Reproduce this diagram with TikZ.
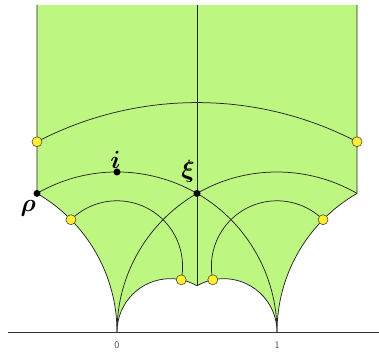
\documentclass[tikz,border=0pt]{standalone}
\usepackage{amsmath}
\usepackage{bm}
\definecolor{domgreen}{RGB}{190,246,130}
\definecolor{ydot}{RGB}{255,238,50}
\tikzset{
  edge/.style={draw=black!85,line width=0.75pt},
  ypt/.style={fill=ydot,draw=black!60!olive,line width=0.6pt},
  lab/.style={font=\fontsize{23}{23}\selectfont},
  axlab/.style={font=\sffamily\fontsize{10}{10}\selectfont,text=black!70}
}
\begin{document}
\begin{tikzpicture}[x=160pt,y=160pt]
\useasboundingbox (-0.73125,-0.125) rectangle (1.6375,2.075);
\def\rt{0.8660254}
\def\top{2.044}
\def\hr{0.41}
\coordinate (rho) at (-0.5,\rt);
\coordinate (ii) at (0,1);
\coordinate (xi) at (0.5,\rt);
\coordinate (o) at (0,0);
\coordinate (one) at (1,0);
\coordinate (dip) at (0.5,{sqrt(3)/6});
\coordinate (tl) at (-0.5,\top);
\coordinate (tr) at (1.5,\top);
\coordinate (tm) at (0.5,\top);
\coordinate (ya) at (-0.5,1.189);
\coordinate (yb) at (1.5,1.189);
\path (0,\hr) ++(134.6:\hr) coordinate (yc);
\path (0,\hr) ++(-11.8:\hr) coordinate (yd);
\path (1,\hr) ++(191.8:\hr) coordinate (ye);
\path (1,\hr) ++(45.4:\hr) coordinate (yf);
% axis
\coordinate (axl) at (-0.681,0);
\coordinate (axr) at (1.6375,0);
\draw[black!80,line width=0.75pt] (axl) -- (axr);
% domain
\fill[domgreen] (tl) -- (rho) arc[start angle=60,end angle=0,radius=1]
  arc[start angle=180,end angle=60,radius=1/3]
  arc[start angle=120,end angle=0,radius=1/3]
  arc[start angle=180,end angle=120,radius=1] -- (tr) -- cycle;
\draw[edge] (tl) -- (rho) arc[start angle=60,end angle=0,radius=1]
  arc[start angle=180,end angle=60,radius=1/3]
  arc[start angle=120,end angle=0,radius=1/3]
  arc[start angle=180,end angle=120,radius=1] -- (tr);
% interior lines
\draw[edge] (tm) -- (dip);
\draw[edge] (rho) arc[start angle=120,end angle=0,radius=1];
\draw[edge] (o) arc[start angle=180,end angle=60,radius=1];
\draw[edge] (ya) arc[start angle=117.53,end angle=62.47,radius=2.163];
\draw[edge] (yc) arc[start angle=134.6,end angle=-11.8,radius=\hr];
\draw[edge] (ye) arc[start angle=191.8,end angle=45.4,radius=\hr];
% points
\foreach \p in {ya,yb,yc,yd,ye,yf} \path[ypt] (\p) circle[radius=5pt];
\foreach \p in {rho,ii,xi} \fill (\p) circle[radius=3.5pt];
% labels
\node[lab] (lrho) at (-0.555,0.775) {$\boldsymbol{\rho}$};
\node[lab] (lii) at (-0.01,1.078) {$\boldsymbol{i}$};
\node[lab] (lxi) at (0.444,1.006) {$\boldsymbol{\xi}$};
\node[axlab] (l0) at (0,-0.085) {0};
\node[axlab] (l1) at (1,-0.085) {1};
\end{tikzpicture}
\end{document}
